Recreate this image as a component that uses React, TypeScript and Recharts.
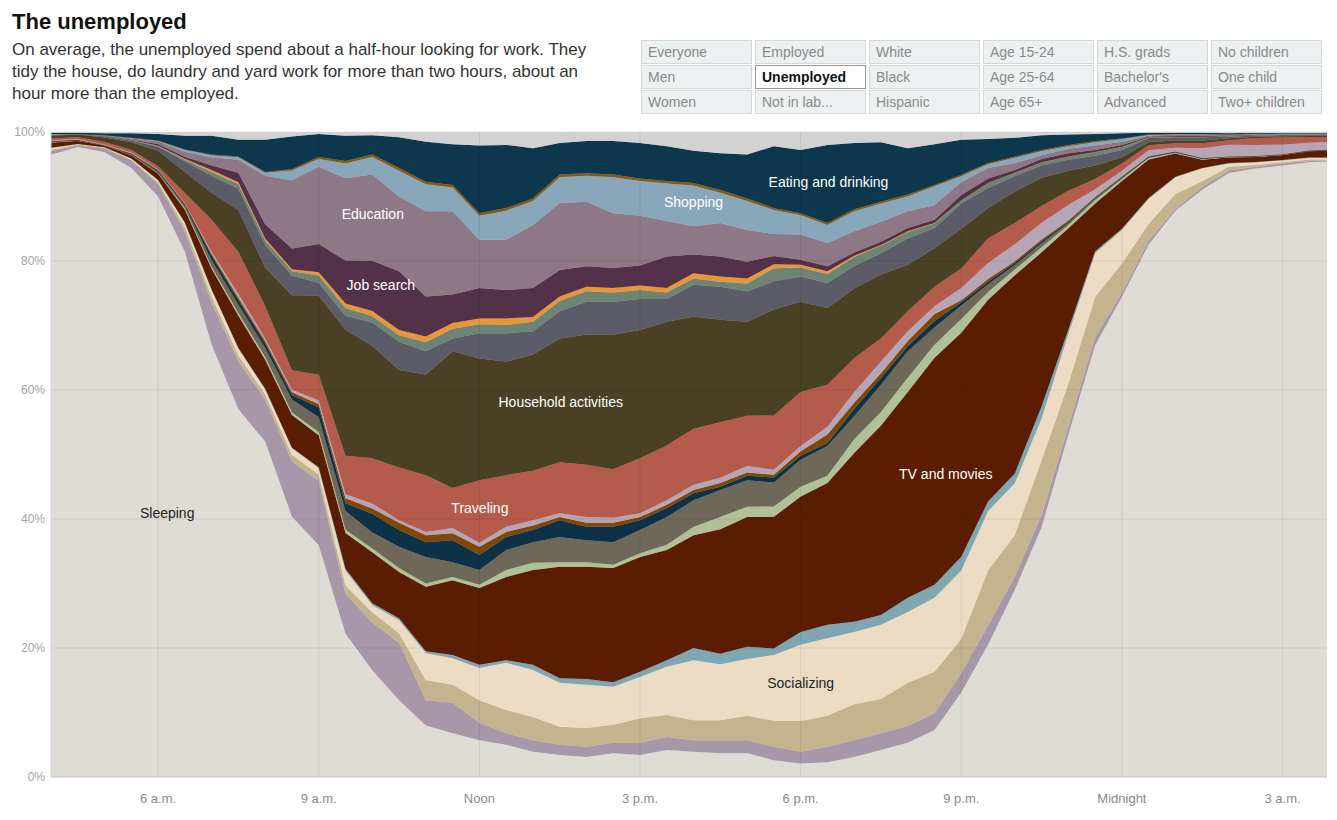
import React from 'react';
import { AreaChart, Area, XAxis, YAxis, ReferenceLine, ReferenceDot } from 'recharts';

// hours after 4 a.m.
const times = [0,0.5,1,1.5,2,2.5,3,3.5,4,4.5,5,5.5,6,6.5,7,7.5,8,8.5,9,9.5,10,10.5,11,11.5,12,12.5,13,13.5,14,14.5,15,15.5,16,16.5,17,17.5,18,18.5,19,19.5,20,20.5,21,21.5,22,22.5,23,23.5,23.83];

const sleeping = [97,98,97,94.5,90,81.5,67,57,52,40, 36,22.3,16.6,11.9,8,6.8,5.7,5,3.9,3.4, 3.1,3.7,3.4,4.2,3.9,3.7,3.7,2.6,2.1,2.3, 3.1,4.2,5.3,7.3,13,20.5,29,38.8,53,67, 74.5,82.6,87.8,91,93.6,94.6,95.1,95.6,95.8];
const personalCare = [0.6,0.3,0.6,1.2,1.9,3.2,6.5,7.4,6.5,8.5, 10,6.2,7.4,8.9,3.9,4.7,2.7,1.8,1.8,1.6, 1.6,1.6,1.9,2,1.8,2,2,2.1,1.8,2.4, 2.6,2.6,2.6,2.6,3,3,2,1.9,1.2,1.3, 0.6,0.6,0.3,0.4,0.4,0.3,0.3,0.2,0.1];
const relaxing = [0.2,0.1,0.1,0.1,0.3,0.7,1,1,0.8,1, 1,1.3,1.6,1.5,3.1,2.8,3.5,3.6,3.6,2.8, 2.9,2.8,3.8,3.4,3.1,3.1,3.8,4,4.8,4.8, 5.6,5.3,6.7,6.4,5.3,8.5,6.5,8.5,6.7,6.2, 4.6,2.6,2.3,0.9,0.6,0.3,0.2,0.2,0.2];
const socializing = [0.3,0.1,0.1,0.2,0.3,0.6,1,1,0.8,1, 1,2.3,1.1,2,4.2,4.1,5,7.3,7.3,6.8, 6.7,5.9,6.4,7.5,9.3,8.7,8.8,10.2,11.8,12, 11.2,11.5,11,11.5,10.5,9.2,8,6.5,7.7,6.8, 5.2,3.9,2.6,2,0.5,0.4,0.3,0.3,0.3];
const sports = [0,0,0,0,0.05,0.05,0.1,0.1,0.1,0.1, 0.1,0.3,0.3,0.3,0.3,0.5,0.5,0.4,0.8,0.7, 0.9,0.7,0.8,1,1.9,1.6,1.9,1,2,2.1, 1.6,1.5,2.2,2,2.1,1.5,1.5,1.9,0.7,0.3, 0.2,0.1,0.1,0.05,0.05,0.02,0.02,0.02,0.02];
const tvMovies = [0.8,0.5,0.3,0.5,1,2,3.2,5,4.5,5, 5,5.6,7.9,7.2,10,11.6,11.9,12.9,14.7,17.3, 17.4,17.7,17.8,17.1,17.5,19.3,20.1,20.4,21,22, 26.2,29.4,31.9,35.2,34.5,31.3,30.7,23.9,15.7,7.4, 7.4,6,3.6,1.3,0.9,0.8,0.8,1,1.1];
const computer = [0.05,0,0,0,0.05,0.2,0.3,0.4,0.4,0.4, 0.5,0.5,0.6,0.6,0.5,0.5,0.5,1.1,1.1,0.7, 0.7,0.5,0.6,0.8,1.3,1.9,1.6,1.6,1.5,1.1, 2.1,2.1,2.2,2,2.1,1.2,0.9,0.8,0.5,0.5, 0.3,0.2,0.1,0.1,0.05,0.05,0.03,0.03,0.03];
const otherLeisure = [0.1,0.05,0,0.1,0.2,0.4,1,1.3,1.4,2, 2.3,2.9,2.5,3.3,4.1,2.3,2.3,3.1,3.2,3.9, 3.4,3.5,3.6,4.3,4.1,4.2,4.1,3.7,4.2,4.6, 3.6,4.2,4.1,2.7,2.1,1.2,0.7,0.6,0.3,0.3, 0.2,0.1,0.1,0.05,0.05,0.05,0.03,0.03,0.03];
const phoneMail = [0.05,0.05,0,0.1,0.2,0.2,0.7,0.7,0.7,0.7, 1.5,1.2,2.9,2.6,2.3,3.4,2.3,2,1.9,2.6, 2.1,2.4,1.5,1.4,1.1,0.5,0.7,0.8,0.6,0.5, 1.1,1.1,0.8,1,0.5,0.4,0.3,0.3,0.2,0.1, 0.1,0.1,0.05,0.05,0.02,0.02,0.02,0.02,0.02];
const volunteering = [0.05,0.05,0,0.1,0.1,0.1,0.3,0.4,0.4,0.4, 0.5,0.8,0.8,1.1,1.1,1.1,1.3,0.8,0.7,0.5, 0.6,0.6,0.5,0.5,0.5,0.6,0.5,0.4,0.7,1.3, 1,0.7,0.8,1.1,0.3,0.4,0.3,0.3,0.2,0.1, 0.1,0.1,0.05,0.05,0.02,0.02,0.02,0.02,0.02];
const religious = [0.1,0.1,0.1,0.1,0.1,0.1,0.3,0.6,0.4,0.4, 0.6,0.6,0.8,0.4,0.5,0.8,0.6,0.8,0.8,0.6, 0.9,0.8,0.6,0.7,0.8,0.8,1,0.8,0.8,1.2, 1.6,1.8,1.5,1.2,1.9,2.5,2.6,2.6,2.4,1.2, 0.9,0.9,0.6,1.5,1.8,1.7,1.5,1.2,1.2];
const traveling = [0.3,0.3,0.4,0.4,0.5,1.6,5,6.5,5,3, 4,6,7,8.2,8.8,6.2,9.7,8,7.7,7.9, 8.1,7.5,8.5,8.5,8.7,8.6,7.8,8.4,8.4,6.5, 5.3,3.6,3.1,3,3,3.8,3.3,2.6,2.2,1.6, 1.1,0.8,0.7,0.8,0.7,1.1,1.1,0.9,0.8];
const household = [0.4,0.4,0.7,1.2,2.4,3.3,4.2,6.5,6,11.5, 12.3,19.6,17.5,15.1,15.6,21.2,18.9,17.6,18,19.2, 20.2,20.9,19.9,19.2,17.4,15.9,14.6,16.4,14,11.9, 10.8,9.9,7.2,6,6.1,4.7,4.9,4.4,3.1,2.1, 1,0.5,0.4,0.4,0.3,0.2,0.2,0.15,0.15];
const caring = [0.2,0.1,0.2,0.3,0.6,1.6,2.6,3.3,3.5,3, 2,2.2,3.6,4.4,3.6,2,3.9,4.4,3.6,4.2, 5.1,5.1,4.8,3.5,4.9,5.1,4.7,4.4,3.9,3.9, 3.5,3.3,4.1,3.1,3.9,3.1,2.4,1.9,1.7,1.5, 1.1,0.6,0.5,0.5,0.3,0.2,0.2,0.15,0.15];
const services = [0.05,0,0,0.05,0.1,0.3,0.6,0.7,0.7,0.7, 1.1,1.2,1,1,1.4,1.5,1.4,1.3,1.5,1.6, 1.6,1.4,1.4,1,1,0.8,1.2,2,1.4,1.4, 1.4,1.2,1,0.7,0.5,0.8,0.5,0.5,0.5,0.6, 0.5,0.1,0.1,0.1,0.05,0.05,0.03,0.03,0.03];
const civic = [0,0,0,0,0.05,0.1,0.3,0.3,0.3,0.3, 0.5,0.7,0.8,0.8,0.9,0.9,0.9,1,0.7,0.7, 0.7,0.7,0.7,0.7,0.8,0.8,0.8,0.6,0.4,0.4, 0.2,0.1,0.1,0.1,0,0,0,0,0,0, 0,0,0,0,0,0,0,0,0];
const jobSearch = [0,0,0,0.05,0.3,0.3,0.7,1.5,2.2,3.2, 4.4,6.7,7.8,9.1,6.2,4.4,4.7,4.4,4.5,4.1, 3.2,3.1,3.1,4.9,2.9,3.1,2.6,1.3,0.8,0.8, 0.5,0.5,0.5,0.5,0.8,0.7,0.4,0.5,0.5,0.3, 0.3,0.1,0.1,0.1,0.05,0.05,0.03,0.03,0.03];
const education = [0,0,0.1,0.2,0.4,0.8,1.3,2,7.5,10.5, 12,12.8,13.4,11.6,13.2,12.9,7.5,7.8,9.8,10.4, 10,8.5,7.7,5.5,4.4,5.2,4.9,3.4,3.9,3.6, 3.3,3.1,2.6,2.3,2,1.6,1.1,0.6,0.7,0.7, 0.5,0.2,0.2,0.2,0.1,0.1,0.05,0.05,0.05];
const shopping = [0.05,0,0.05,0.05,0.1,0.3,0.3,0.4,0.5,1.5, 1.2,2.3,2.7,4,4.2,3.7,3.7,4.5,3.7,4, 4,5.6,5.4,5.8,6.3,4.7,4.5,3.7,3,2.8, 3.1,2.8,2.3,2.9,0.9,0.6,0.8,0.6,0.4,0.5, 0.4,0.1,0.1,0.1,0.05,0.05,0.03,0.03,0.03];
const foodPrep = [0,0,0,0.05,0.05,0.05,0.1,0.1,0.1,0.2, 0.3,0.4,0.4,0.4,0.4,0.4,0.4,0.4,0.4,0.4, 0.4,0.4,0.4,0.4,0.4,0.4,0.4,0.3,0.3,0.3, 0.3,0.3,0.3,0.2,0.2,0.2,0.2,0.2,0.2,0.2, 0.1,0.05,0.03,0.03,0.03,0.03,0.03,0.03,0.03];
const eating = [0.2,0.2,0.3,0.7,1,2.1,2.9,2.6,5,5, 3.6,3.9,3,4.8,6.2,6.3,10.5,9.8,7.8,4.9, 5,5.2,5.5,5.4,5,5.7,6.8,9.6,9.8,12.1, 10.3,9.2,7.2,6.3,5.4,3.7,2.9,2.3,1.6,1.1, 0.8,0.3,0.2,0.2,0.2,0.15,0.1,0.1,0.1];
const otherActivities = [0.1,0.1,0.2,0.2,0.3,0.6,0.6,1.2,1.2,0.7, 0.3,0.6,0.5,0.8,1.5,1.9,2.1,2,2.5,1.7, 1.4,1.4,1.7,2.2,2.9,3.3,3.5,2.2,2.8,2, 1.7,1.6,2.5,1.9,1.2,1.1,0.9,0.5,0.4,0.3, 0.2,0.1,0.1,0.1,0.2,0.1,0.2,0.2,0.2];

const tickHours = [2, 5, 8, 11, 14, 17, 20, 23];
const tickLabels = ['6 a.m.', '9 a.m.', 'Noon', '3 p.m.', '6 p.m.', '9 p.m.', 'Midnight', '3 a.m.'];
const pctTicks = [0, 0.2, 0.4, 0.6, 0.8, 1];

const groupColumns = [
  ['Everyone', 'Men', 'Women'],
  ['Employed', 'Unemployed', 'Not in lab...'],
  ['White', 'Black', 'Hispanic'],
  ['Age 15-24', 'Age 25-64', 'Age 65+'],
  ['H.S. grads', "Bachelor's", 'Advanced'],
  ['No children', 'One child', 'Two+ children'],
];
const selectedGroup = 'Unemployed';

const layers = [
  { key: 'sleeping', values: sleeping, color: '#dfdcd5' },
  { key: 'personalCare', values: personalCare, color: '#a797a9' },
  { key: 'relaxing', values: relaxing, color: '#c3b48f' },
  { key: 'socializing', values: socializing, color: '#ecdcc3' },
  { key: 'sports', values: sports, color: '#7ea6b3' },
  { key: 'tvMovies', values: tvMovies, color: '#5b1d02' },
  { key: 'computer', values: computer, color: '#b0c197' },
  { key: 'otherLeisure', values: otherLeisure, color: '#6d6858' },
  { key: 'phoneMail', values: phoneMail, color: '#0d3147' },
  { key: 'volunteering', values: volunteering, color: '#7f4806' },
  { key: 'religious', values: religious, color: '#b6a5b6' },
  { key: 'traveling', values: traveling, color: '#b45b4b' },
  { key: 'household', values: household, color: '#4a4124' },
  { key: 'caring', values: caring, color: '#5c5b68' },
  { key: 'services', values: services, color: '#6d8475' },
  { key: 'civic', values: civic, color: '#e89639' },
  { key: 'jobSearch', values: jobSearch, color: '#533249' },
  { key: 'education', values: education, color: '#8f7885' },
  { key: 'shopping', values: shopping, color: '#88a7bb' },
  { key: 'foodPrep', values: foodPrep, color: '#8a5a12' },
  { key: 'eating', values: eating, color: '#0d374c' },
  { key: 'otherActivities', values: otherActivities, color: '#d2d2d2' },
];

const data = times.map((t, i) => {
  const row: Record<string, number> = { t };
  layers.forEach((l) => { row[l.key] = l.values[i]; });
  return row;
});

const labels = [
  { text: 'Sleeping', t: 2.17, v: 0.409, color: '#222' },
  { text: 'Education', t: 6.01, v: 0.873, color: '#fff' },
  { text: 'Job search', t: 6.16, v: 0.763, color: '#fff' },
  { text: 'Household activities', t: 9.52, v: 0.581, color: '#fff' },
  { text: 'Traveling', t: 8.01, v: 0.417, color: '#fff' },
  { text: 'Shopping', t: 12.0, v: 0.891, color: '#fff' },
  { text: 'Eating and drinking', t: 14.52, v: 0.922, color: '#fff' },
  { text: 'TV and movies', t: 16.71, v: 0.47, color: '#fff' },
  { text: 'Socializing', t: 14.0, v: 0.146, color: '#222' },
];

const font = 'Arial, "Liberation Sans", Helvetica, sans-serif';
const gridStroke = 'rgba(0,0,0,0.07)';

export default function App() {
  return (
    <div style={{ position: 'absolute', left: 0, top: 0, width: 1337, height: 820, background: '#fff', fontFamily: font }}>
      <div style={{ position: 'absolute', left: 0, top: 0 }}>
        <AreaChart
          width={1337}
          height={820}
          data={data}
          stackOffset="expand"
          margin={{ top: 132, right: 10, left: 0, bottom: 0 }}
        >
          <XAxis
            dataKey="t"
            type="number"
            domain={[0, 23.83]}
            ticks={tickHours}
            interval={0}
            tickFormatter={(v: number) => tickLabels[tickHours.indexOf(v)] ?? ''}
            height={43}
            tickLine={false}
            tickSize={0}
            tickMargin={17}
            axisLine={{ stroke: '#c4c4c4' }}
            tick={{ fill: '#8a8a8a', fontSize: 13 }}
          />
          <YAxis
            type="number"
            domain={[0, 1]}
            ticks={pctTicks}
            interval={0}
            tickFormatter={(v: number) => `${Math.round(v * 100)}%`}
            width={51}
            tickLine={false}
            tickSize={0}
            tickMargin={6}
            axisLine={{ stroke: '#d2d2d2' }}
            tick={{ fill: '#a3a3a3', fontSize: 12 }}
          />
          {layers.map((l) => (
            <Area
              key={l.key}
              type="linear"
              dataKey={l.key}
              stackId="day"
              fill={l.color}
              fillOpacity={1}
              stroke={l.color}
              strokeWidth={0.5}
              dot={false}
              activeDot={false}
              isAnimationActive={false}
            />
          ))}
          {tickHours.map((h) => (
            <ReferenceLine key={`vx${h}`} x={h} stroke={gridStroke} strokeWidth={1} />
          ))}
          {pctTicks.slice(1, 5).map((p) => (
            <ReferenceLine key={`hy${p}`} y={p} stroke={gridStroke} strokeWidth={1} />
          ))}
          {labels.map((lb) => (
            <ReferenceDot
              key={lb.text}
              x={lb.t}
              y={lb.v}
              r={0}
              fill="none"
              stroke="none"
              label={{ value: lb.text, position: 'center', fill: lb.color, fontSize: 14 }}
            />
          ))}
        </AreaChart>
      </div>

      <div style={{ position: 'absolute', left: 12, top: 8, fontSize: 22, fontWeight: 'bold', color: '#111', lineHeight: '28px' }}>
        The unemployed
      </div>
      <div style={{ position: 'absolute', left: 12, top: 39, fontSize: 17, color: '#333', lineHeight: '22px', width: 640 }}>
        On average, the unemployed spend about a half-hour looking for work. They<br />
        tidy the house, do laundry and yard work for more than two hours, about an<br />
        hour more than the employed.
      </div>

      {groupColumns.map((col, ci) => (
        <div key={ci} style={{ position: 'absolute', left: 641 + ci * 114, top: 40, width: 111 }}>
          {col.map((name) => {
            const sel = name === selectedGroup;
            return (
              <div
                key={name}
                style={{
                  boxSizing: 'border-box',
                  height: 24,
                  marginBottom: 1,
                  border: sel ? '1px solid #9a9a9a' : '1px solid #d4d8d8',
                  background: sel ? '#fff' : '#eef1f1',
                  color: sel ? '#111' : '#8a8a8a',
                  fontWeight: sel ? 'bold' : 'normal',
                  fontSize: 14,
                  lineHeight: '22px',
                  paddingLeft: 6,
                  whiteSpace: 'nowrap',
                  overflow: 'hidden',
                }}
              >
                {name}
              </div>
            );
          })}
        </div>
      ))}
    </div>
  );
}
